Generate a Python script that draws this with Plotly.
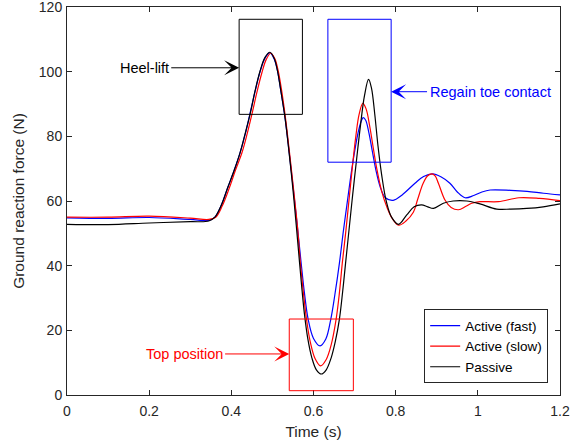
import plotly.graph_objects as go

# ---- data ----
t_fast = [0.00, 0.10, 0.20, 0.30, 0.345, 0.36, 0.375, 0.392, 0.407, 0.421, 0.433, 0.445, 0.458,
          0.47, 0.482, 0.494, 0.504, 0.512, 0.52, 0.531, 0.541, 0.551, 0.56, 0.569, 0.578, 0.587,
          0.600, 0.616, 0.630, 0.642, 0.652, 0.663, 0.673, 0.681, 0.690, 0.699, 0.708, 0.715,
          0.721, 0.727, 0.735, 0.743, 0.752, 0.762, 0.775, 0.794, 0.815, 0.847, 0.868, 0.89,
          0.91, 0.932, 0.95, 0.969, 0.99, 1.01, 1.03, 1.08, 1.12, 1.16, 1.2]
f_fast = [54.8, 54.6, 54.9, 54.3, 54.0, 55.0, 58.5, 64.4, 69.5, 74.8, 80.3, 86.8, 94.0,
          100.0, 104.2, 105.8, 104.0, 100.5, 94.5, 85.5, 74.8, 63.5, 53.0, 42.0, 31.5, 23.4,
          17.5, 15.2, 17.3, 23.4, 31.0, 40.7, 51.0, 58.5, 67.0, 74.5, 80.8, 84.3,
          85.8, 85.0, 81.0, 75.5, 69.5, 64.5, 61.0, 60.2, 61.8, 65.5, 67.6, 68.4,
          67.5, 65.5, 62.8, 61.0, 61.7, 62.8, 63.4, 63.3, 63.0, 62.4, 61.9]

t_slow = [0.00, 0.10, 0.20, 0.30, 0.345, 0.362, 0.378, 0.395, 0.41, 0.426, 0.438, 0.45, 0.462,
          0.474, 0.485, 0.496, 0.506, 0.514, 0.522, 0.532, 0.542, 0.552, 0.561, 0.568, 0.576,
          0.583, 0.592, 0.604, 0.617, 0.631, 0.643, 0.655, 0.663, 0.670, 0.679, 0.687, 0.695,
          0.703, 0.711, 0.72, 0.728, 0.737, 0.746, 0.754, 0.766, 0.779, 0.792, 0.807, 0.825,
          0.843, 0.853, 0.867, 0.878, 0.888, 0.896, 0.904, 0.92, 0.935, 0.953, 0.97, 0.985,
          1.005, 1.05, 1.1, 1.15, 1.2]
f_slow = [55.0, 55.0, 55.3, 54.7, 54.3, 55.0, 58.5, 64.0, 69.5, 75.0, 80.5, 86.8, 93.5,
          99.5, 103.8, 105.7, 104.0, 100.3, 94.5, 85.5, 74.5, 63.0, 52.0, 41.0, 31.0,
          23.4, 16.5, 11.2, 9.0, 11.0, 15.5, 23.4, 31.5, 40.7, 51.0, 61.0, 71.0,
          80.0, 86.8, 90.2, 88.5, 83.0, 76.0, 70.0, 63.0, 58.0, 54.5, 52.5, 53.8,
          56.5, 60.3, 65.5, 67.8, 68.4, 67.8, 65.5, 60.3, 58.0, 57.3, 58.3, 59.3,
          59.8, 59.8, 61.0, 60.8, 60.1]

t_pass = [0.00, 0.10, 0.20, 0.30, 0.345, 0.36, 0.375, 0.392, 0.407, 0.421, 0.433, 0.446, 0.458,
          0.47, 0.482, 0.494, 0.504, 0.512, 0.52, 0.531, 0.541, 0.55, 0.558, 0.566, 0.572,
          0.578, 0.586, 0.596, 0.607, 0.619, 0.631, 0.643, 0.653, 0.663, 0.671, 0.678, 0.686,
          0.695, 0.705, 0.714, 0.724, 0.734, 0.741, 0.749, 0.757, 0.766, 0.777, 0.79, 0.807,
          0.827, 0.845, 0.863, 0.878, 0.892, 0.916, 0.94, 0.973, 1.005, 1.046, 1.08, 1.119,
          1.159, 1.2]
f_pass = [52.8, 52.7, 53.2, 53.6, 53.8, 55.0, 58.5, 64.4, 69.5, 74.8, 80.5, 87.0, 94.2,
          100.2, 104.4, 106.0, 104.2, 100.5, 94.5, 85.5, 74.5, 63.5, 52.5, 41.0, 32.5,
          25.0, 17.5, 11.5, 7.8, 6.5, 7.8, 11.5, 16.5, 23.4, 32.0, 40.7, 50.5,
          61.5, 73.0, 83.0, 92.5, 97.6, 95.0, 87.0, 77.0, 68.0, 60.0, 55.0, 52.8,
          55.7, 58.2, 58.8, 58.2, 57.7, 59.3, 60.0, 60.0, 59.1, 57.5, 57.5, 57.7,
          58.2, 59.1]

series_names = ["Active (fast)", "Active (slow)", "Passive"]
series_colors = ["#0000FF", "#FF0000", "#000000"]

x_ticks = [0, 0.2, 0.4, 0.6, 0.8, 1.0, 1.2]
x_tick_labels = ["0", "0.2", "0.4", "0.6", "0.8", "1", "1.2"]
y_ticks = [0, 20, 40, 60, 80, 100, 120]
y_tick_labels = ["0", "20", "40", "60", "80", "100", "120"]

# annotation boxes (x0, x1, y0, y1)
box_heel = [0.419, 0.573, 86.8, 116.2]
box_toe = [0.635, 0.789, 72.0, 116.2]
box_top = [0.541, 0.697, 1.33, 23.5]

FONT = "Liberation Sans, Arial, Helvetica, sans-serif"
AX = "#262626"

fig = go.Figure()
for tt, ff, nm, col in zip([t_fast, t_slow, t_pass], [f_fast, f_slow, f_pass],
                           series_names, series_colors):
    fig.add_trace(go.Scatter(x=tt, y=ff, mode="lines", name=nm,
                             line=dict(color=col, width=1.2, shape="spline", smoothing=1.0)))

for b, col in [(box_heel, "#000000"), (box_toe, "#0000FF"), (box_top, "#FF0000")]:
    fig.add_shape(type="rect", xref="x", yref="y", x0=b[0], x1=b[1], y0=b[2], y1=b[3],
                  line=dict(color=col, width=1), fillcolor="rgba(0,0,0,0)")

arrows = [
    ("Heel-lift", 0.188, 101.2, box_heel[0], 101.2, "#000000"),
    ("Regain toe contact", 1.0297, 93.8, box_toe[1], 93.8, "#0000FF"),
    ("Top position", 0.285, 12.7, box_top[0], 12.7, "#FF0000"),
]
for txt, ax, ay, x, y, col in arrows:
    fig.add_annotation(text=txt, x=x, y=y, ax=ax, ay=ay, xref="x", yref="y",
                       axref="x", ayref="y", showarrow=True, arrowhead=3, arrowsize=2.5,
                       arrowwidth=1, arrowcolor=col, standoff=0, borderpad=2,
                       font=dict(family=FONT, size=14.5, color=col))

fig.update_xaxes(range=[0, 1.2], tickvals=x_ticks, ticktext=x_tick_labels,
                 ticks="inside", ticklen=5, tickcolor=AX, mirror="ticks",
                 showline=True, linecolor=AX, linewidth=1, showgrid=False, zeroline=False,
                 tickfont=dict(family=FONT, size=14, color=AX), ticklabelstandoff=3,
                 ticklabeloverflow="allow", automargin=False,
                 title=dict(text="Time (s)", font=dict(family=FONT, size=15.5, color=AX),
                            standoff=8))
fig.update_yaxes(range=[0, 120], tickvals=y_ticks, ticktext=y_tick_labels,
                 ticks="inside", ticklen=5, tickcolor=AX, mirror="ticks",
                 showline=True, linecolor=AX, linewidth=1, showgrid=False, zeroline=False,
                 tickfont=dict(family=FONT, size=14, color=AX), ticklabelstandoff=1,
                 ticklabeloverflow="allow", automargin=False,
                 title=dict(text="Ground reaction force (N)",
                            font=dict(family=FONT, size=15.5, color=AX), standoff=10))

fig.update_layout(
    width=582, height=446, autosize=False,
    margin=dict(l=67, r=22, t=7, b=51),
    paper_bgcolor="white", plot_bgcolor="white",
    font=dict(family=FONT, color=AX),
    legend=dict(x=0.976, y=0.03, xanchor="right", yanchor="bottom",
                bgcolor="white", bordercolor=AX, borderwidth=1,
                font=dict(family=FONT, size=13.5, color="#000000"),
                tracegroupgap=0),
    showlegend=True,
)

fig.write_html("out.html", config={"displayModeBar": False},
               post_script="document.body.style.margin='0';document.body.style.overflow='hidden';")
